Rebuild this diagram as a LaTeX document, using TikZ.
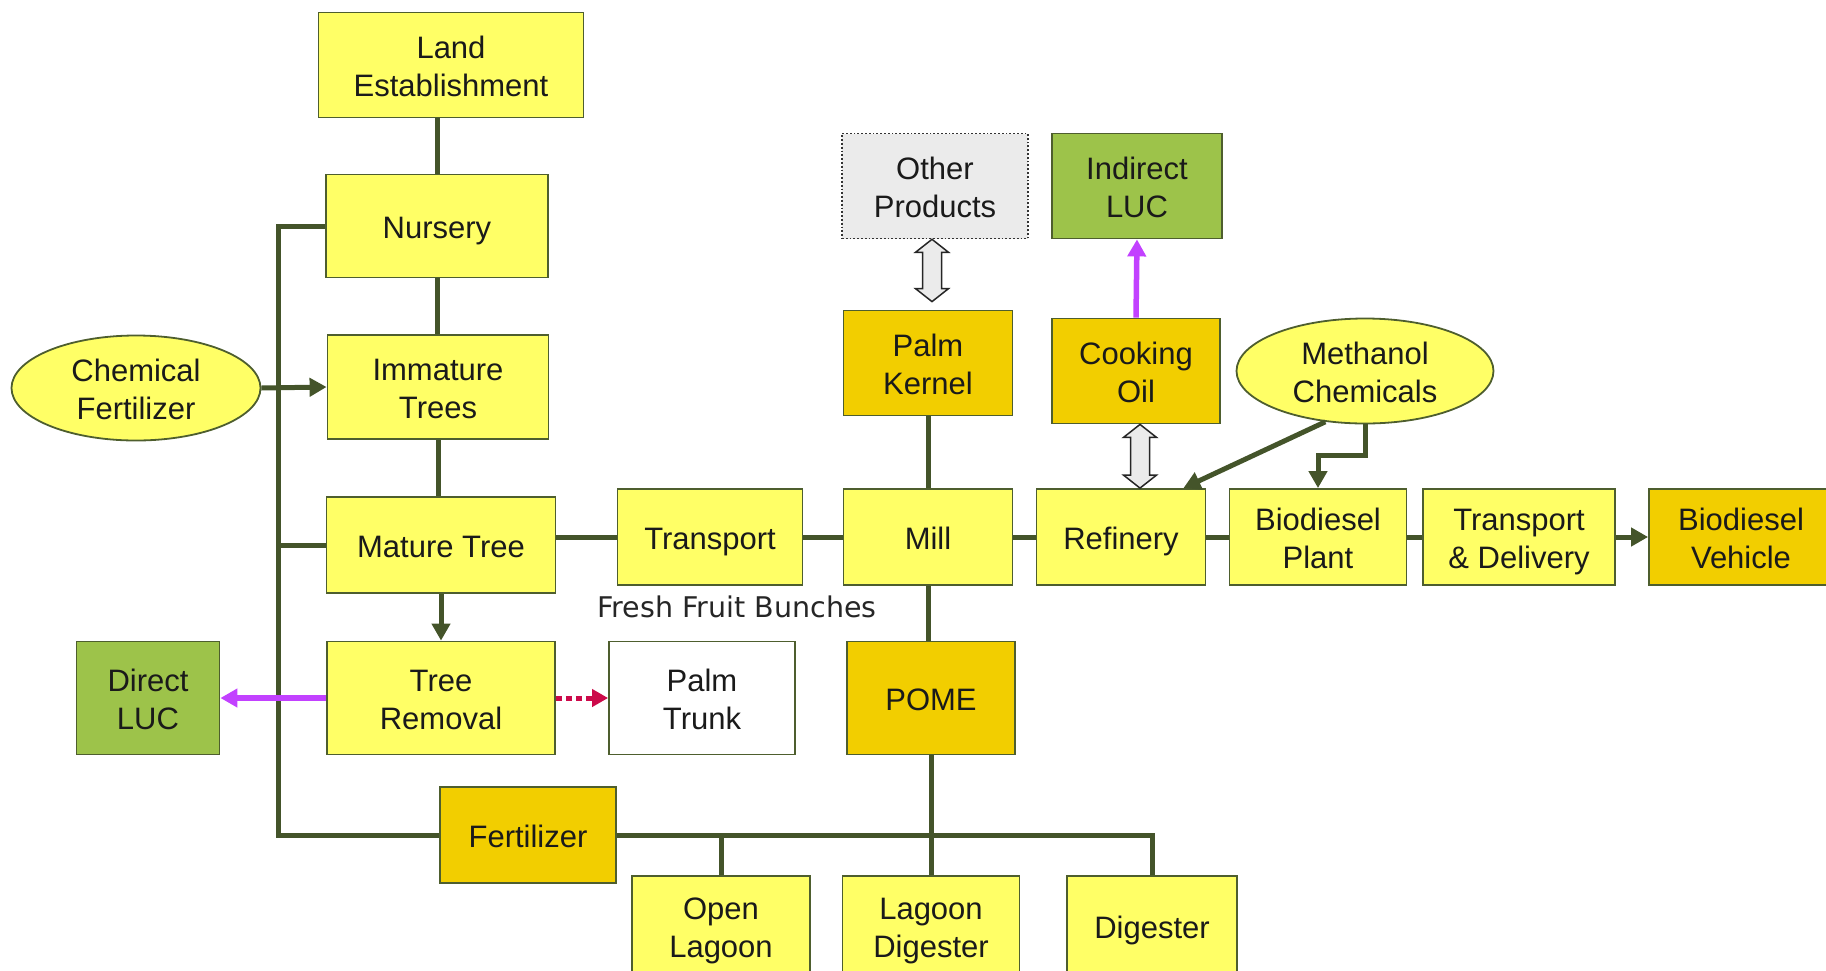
\documentclass[tikz,border=0pt]{standalone}
\usepackage{fontspec}
\setmainfont{Liberation Sans}
\newfontfamily\ffbfont{DejaVu Sans}
\usetikzlibrary{shapes.geometric,arrows.meta,calc}
\definecolor{yel}{HTML}{FFFF66}
\definecolor{gold}{HTML}{F2CE00}
\definecolor{grn}{HTML}{9DC34A}
\definecolor{gry}{HTML}{EBEBEB}
\definecolor{olive}{HTML}{44542A}
\definecolor{bord}{HTML}{4E5E2E}
\definecolor{mag}{HTML}{C241FF}
\definecolor{crim}{HTML}{CC0A4A}
\definecolor{txt}{HTML}{1A1A1A}
\newcommand\hollowdbl[2]{%
  \draw[dblarr] let \p1=(#1), \p2=(#2) in
  (\x1,\y1) -- (\x1+16.5pt,\y1-13pt) -- (\x1+9.5pt,\y1-13pt) -- (\x1+9.5pt,\y2+13pt)
  -- (\x1+16.5pt,\y2+13pt) -- (\x1,\y2) -- (\x1-16.5pt,\y2+13pt) -- (\x1-9.5pt,\y2+13pt)
  -- (\x1-9.5pt,\y1-13pt) -- (\x1-16.5pt,\y1-13pt) -- cycle;}
\begin{document}
\begin{tikzpicture}[x=1pt,y=-1pt,
  bx/.style={draw=bord, line width=1.8pt, rectangle, align=center, inner sep=0pt,
    text=txt, font=\fontsize{31}{38.5}\selectfont, text height=27.5pt, text depth=2.5pt},
  two/.style={text height=66pt},
  ybox/.style={bx, fill=yel},
  gbox/.style={bx, fill=gold},
  lbox/.style={bx, fill=grn},
  wbox/.style={bx, fill=white},
  obox/.style={bx, fill=gry, draw=black!80, dotted, line width=1.6pt},
  ell/.style={bx, ellipse, fill=yel},
  conn/.style={draw=olive, line width=5pt},
  arr/.style={conn, -{Triangle[length=17pt,width=18pt]}},
  magarr/.style={draw=mag, line width=5.5pt, -{Triangle[length=17pt,width=18pt]}},
  crimarr/.style={draw=crim, line width=5pt, dash pattern=on 6pt off 4pt, -{Triangle[length=16pt,width=17pt]}},
  dblarr/.style={fill=gry, draw=black!85, line width=1.5pt, line join=miter},
]
\useasboundingbox (0,0) rectangle (1826,970);
\clip (0,0) rectangle (1826,970);

% nodes
\node[ybox, two, minimum width=265, minimum height=105] (land) at (451,65) {Land\\Establishment};
\node[ybox, minimum width=222, minimum height=103] (nurs) at (437,226) {Nursery};
\node[ybox, two, minimum width=221, minimum height=104] (imm) at (438,387) {Immature\\Trees};
\node[ybox, minimum width=229, minimum height=96] (mat) at (441,545) {Mature Tree};
\node[ybox, two, minimum width=228, minimum height=113] (trem) at (441,698) {Tree\\Removal};
\node[lbox, two, minimum width=143, minimum height=113] (dluc) at (148,698) {Direct\\LUC};
\node[ell, two, minimum width=249, minimum height=105] (chem) at (136,388) {Chemical\\Fertilizer};
\node[gbox, minimum width=176, minimum height=96] (fert) at (528,835) {Fertilizer};
\node[ybox, minimum width=185, minimum height=96] (trans) at (710,537) {Transport};
\node[font=\ffbfont\fontsize{28.5}{34}\selectfont, text=black!85, inner sep=0pt] (ffb) at (737,607) {Fresh Fruit Bunches};
\node[wbox, two, minimum width=186, minimum height=113] (trunk) at (702,698) {Palm\\Trunk};
\node[ybox, minimum width=169, minimum height=96] (mill) at (928,537) {Mill};
\node[gbox, two, minimum width=169, minimum height=105] (pk) at (928,363) {Palm\\Kernel};
\node[obox, two, minimum width=186, minimum height=105] (op) at (935,186) {Other\\Products};
\node[gbox, minimum width=168, minimum height=113] (pome) at (931,698) {POME};
\node[ybox, two, minimum width=178, minimum height=100] (olag) at (721,926) {Open\\Lagoon};
\node[ybox, two, minimum width=177, minimum height=100] (ldig) at (931,926) {Lagoon\\Digester};
\node[ybox, minimum width=170, minimum height=100] (dig) at (1152,926) {Digester};
\node[ybox, minimum width=169, minimum height=96] (ref) at (1121,537) {Refinery};
\node[gbox, two, minimum width=168, minimum height=105] (cook) at (1136,371) {Cooking\\Oil};
\node[lbox, two, minimum width=170, minimum height=105] (iluc) at (1137,186) {Indirect\\LUC};
\node[ell, two, minimum width=257, minimum height=105] (meth) at (1365,371) {Methanol\\Chemicals};
\node[ybox, two, minimum width=177, minimum height=96] (bdp) at (1318,537) {Biodiesel\\Plant};
\node[ybox, two, minimum width=192, minimum height=96] (td) at (1519,537) {Transport\\\& Delivery};
\node[gbox, two, minimum width=184, minimum height=96] (bdv) at (1741,537) {Biodiesel\\Vehicle};

% connectors
\coordinate (busbot) at (278,835);
\draw[conn] (nurs.north) -- (nurs.north |- land.south);
\draw[conn] (nurs.south) -- (nurs.south |- imm.north);
\draw[conn] (imm.south) -- (imm.south |- mat.north);
\draw[arr] (mat.south) -- (trem.north);
\draw[conn] (nurs.west) -| (busbot) -- (fert.west);
\draw[conn] (mat.west) -- (mat.west -| busbot);
\draw[arr] (chem.east) -- (imm.west);
\draw[magarr] (trem.west) -- (dluc.east);
\draw[crimarr] (trem.east) -- (trunk.west);
\draw[conn] (trans.west) -- (trans.west -| mat.east);
\draw[conn] (trans.east) -- (mill.west);
\draw[conn] (mill.east) -- (ref.west);
\draw[conn] (ref.east) -- (bdp.west);
\draw[conn] (bdp.east) -- (td.west);
\draw[arr] (td.east) -- (bdv.west);
\draw[conn] (pk.south) -- (mill.north);
\draw[conn] (mill.south) -- (mill.south |- pome.north);
\draw[conn] (pome.south) -- (ldig.north);
\draw[conn] (fert.east) -| (dig.north);
\draw[conn] (olag.north) -- (olag.north |- fert.east);
\draw[magarr] (cook.north) -- (iluc.south);
\draw[arr] (meth.232) -- ($(ref.north east)+(-23,0)$);
\draw[arr] (meth.south) |- ($(bdp.north)+(0,-33)$) -- (bdp.north);
\hollowdbl{$(op.south)+(-3,0)$}{$(pk.north)+(0,-8)$}
\hollowdbl{$(cook.south)+(4,0)$}{ref.north}
\end{tikzpicture}
\end{document}
